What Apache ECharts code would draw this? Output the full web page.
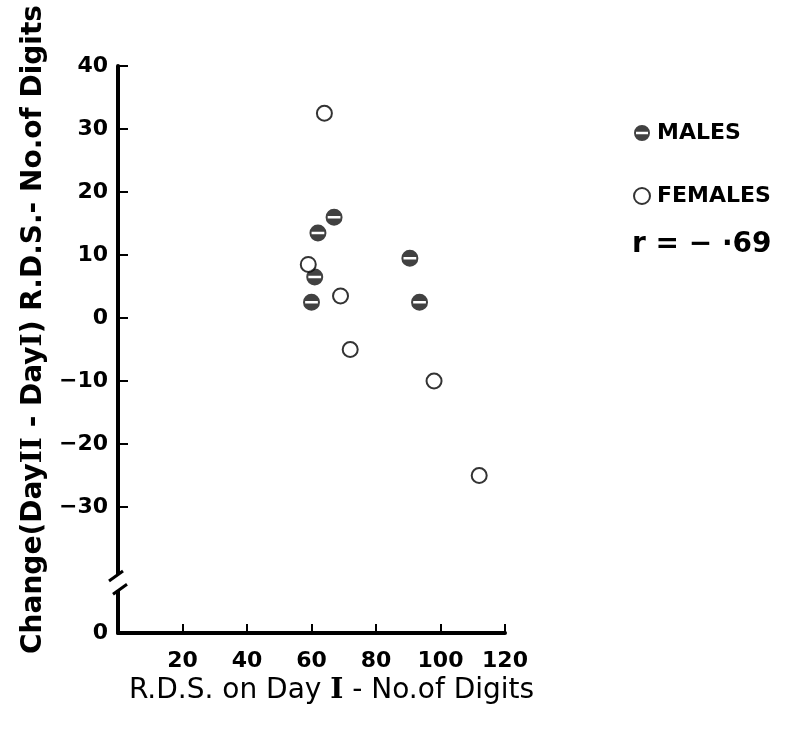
<!DOCTYPE html>
<html>
<head>
<meta charset="utf-8">
<script src="https://cdn.jsdelivr.net/npm/echarts@6/dist/echarts.min.js"></script>
<style>
  html, body { margin: 0; padding: 0; background: #fff; }
  #main { width: 794px; height: 741px; }
</style>
</head>
<body>
<div id="main"></div>
<script>
// values
var maleX = [67, 62, 61, 60, 90.5, 93.5]
var maleY = [16, 13.5, 6.5, 2.5, 9.5, 2.5]
var femaleX = [64, 59, 69, 72, 98, 112]
var femaleY = [32.5, 8.5, 3.5, -5, -10, -25]
var xTicks = [20, 40, 60, 80, 100, 120]
var yTicks = [-30, -20, -10, 0, 10, 20, 30, 40]
// the bottom of the broken axis is the true 0, plotted at -50
var yBottom = -50

var font = '"DejaVu Sans", Lato, sans-serif'
var maleIcon = 'path://M0,-8A8,8 0 1,1 0,8A8,8 0 1,1 0,-8Z M-6,-1.2L-6,1.2L6,1.2L6,-1.2Z'

function pairs (xs, ys) {
  var out = []
  xs.forEach(function (x, i) { out.push([x, ys[i]]) })
  return out
}

var chart = echarts.init(document.getElementById('main'))

var option = {
  backgroundColor: '#fff',
  animation: false,
  grid: { left: 118, right: 289, top: 66, bottom: 108, outerBoundsMode: 'none' },
  legend: {
    orient: 'vertical',
    left: 628,
    top: 117,
    itemGap: 41,
    itemWidth: 16,
    itemHeight: 16,
    textStyle: { fontFamily: font, fontSize: 22, fontWeight: 'bold', color: '#000', padding: [0, 0, 0, 2] },
    data: [
      { name: 'MALES', icon: maleIcon },
      { name: 'FEMALES', icon: 'circle' }
    ]
  },
  xAxis: {
    type: 'value',
    min: 0,
    max: 120,
    interval: 20,
    splitLine: { show: false },
    axisLine: { onZero: false, lineStyle: { color: '#000', width: 4 } },
    axisTick: { inside: true, length: 9, customValues: xTicks, lineStyle: { color: '#000', width: 2 } },
    axisLabel: { customValues: xTicks, margin: 17, fontFamily: font, fontSize: 22, fontWeight: 'bold', color: '#000' },
    name: 'R.D.S. on Day {r|I} - No.of Digits',
    nameLocation: 'middle',
    nameGap: 42,
    nameTextStyle: {
      fontFamily: font, fontSize: 28, color: '#000', padding: [0, 0, 0, 40],
      rich: { r: { fontFamily: '"DejaVu Serif", serif', fontSize: 28, fontWeight: 'bold', color: '#000' } }
    }
  },
  yAxis: {
    type: 'value',
    min: yBottom,
    max: 40,
    interval: 10,
    splitLine: { show: false },
    axisLine: { onZero: false, lineStyle: { color: '#000', width: 4 } },
    axisTick: { inside: true, length: 10, customValues: yTicks, lineStyle: { color: '#000', width: 2 } },
    axisLabel: {
      customValues: [yBottom].concat(yTicks),
      margin: 10,
      fontFamily: font,
      fontSize: 22,
      fontWeight: 'bold',
      color: '#000',
      formatter: function (v) { return v === yBottom ? '0' : String(v).replace('-', '\u2212') }
    },
    name: 'Change(Day{r|II} - Day{r|I}) R.D.S.- No.of Digits',
    nameLocation: 'middle',
    nameGap: 70,
    nameTextStyle: {
      fontFamily: font, fontSize: 28, fontWeight: 'bold', color: '#000', padding: [0, 0, 0, 40],
      rich: { r: { fontFamily: '"DejaVu Serif", serif', fontSize: 28, fontWeight: 'bold', color: '#000' } }
    }
  },
  series: [
    {
      name: 'MALES',
      type: 'scatter',
      symbol: maleIcon,
      symbolSize: 17,
      itemStyle: { color: '#111' },
      data: pairs(maleX, maleY)
    },
    {
      name: 'FEMALES',
      type: 'scatter',
      symbol: 'circle',
      symbolSize: 15,
      itemStyle: { color: '#fff', borderColor: '#000', borderWidth: 2 },
      data: pairs(femaleX, femaleY)
    }
  ],
  graphic: [{
    type: 'text',
    left: 632,
    top: 231,
    style: { text: 'r = \u2212 \u00b769', fontFamily: font, fontSize: 28, fontWeight: 'bold', fill: '#000' }
  }]
}
chart.setOption(option)

// axis break marks
var a = chart.convertToPixel({ gridIndex: 0 }, [0, -40.8])
var b = chart.convertToPixel({ gridIndex: 0 }, [0, -43.2])
chart.setOption({
  graphic: [
    option.graphic[0],
    { type: 'rect', z: 100, shape: { x: a[0] - 4, y: a[1], width: 8, height: b[1] - a[1] }, style: { fill: '#fff' } },
    { type: 'line', z: 101, shape: { x1: a[0] - 9, y1: a[1] + 6, x2: a[0] + 5, y2: a[1] - 4 }, style: { stroke: '#000', lineWidth: 3 } },
    { type: 'line', z: 101, shape: { x1: b[0] - 5, y1: b[1] + 4, x2: b[0] + 9, y2: b[1] - 6 }, style: { stroke: '#000', lineWidth: 3 } }
  ]
})

window.addEventListener('resize', function () {
  chart.resize()
})
</script>
</body>
</html>
